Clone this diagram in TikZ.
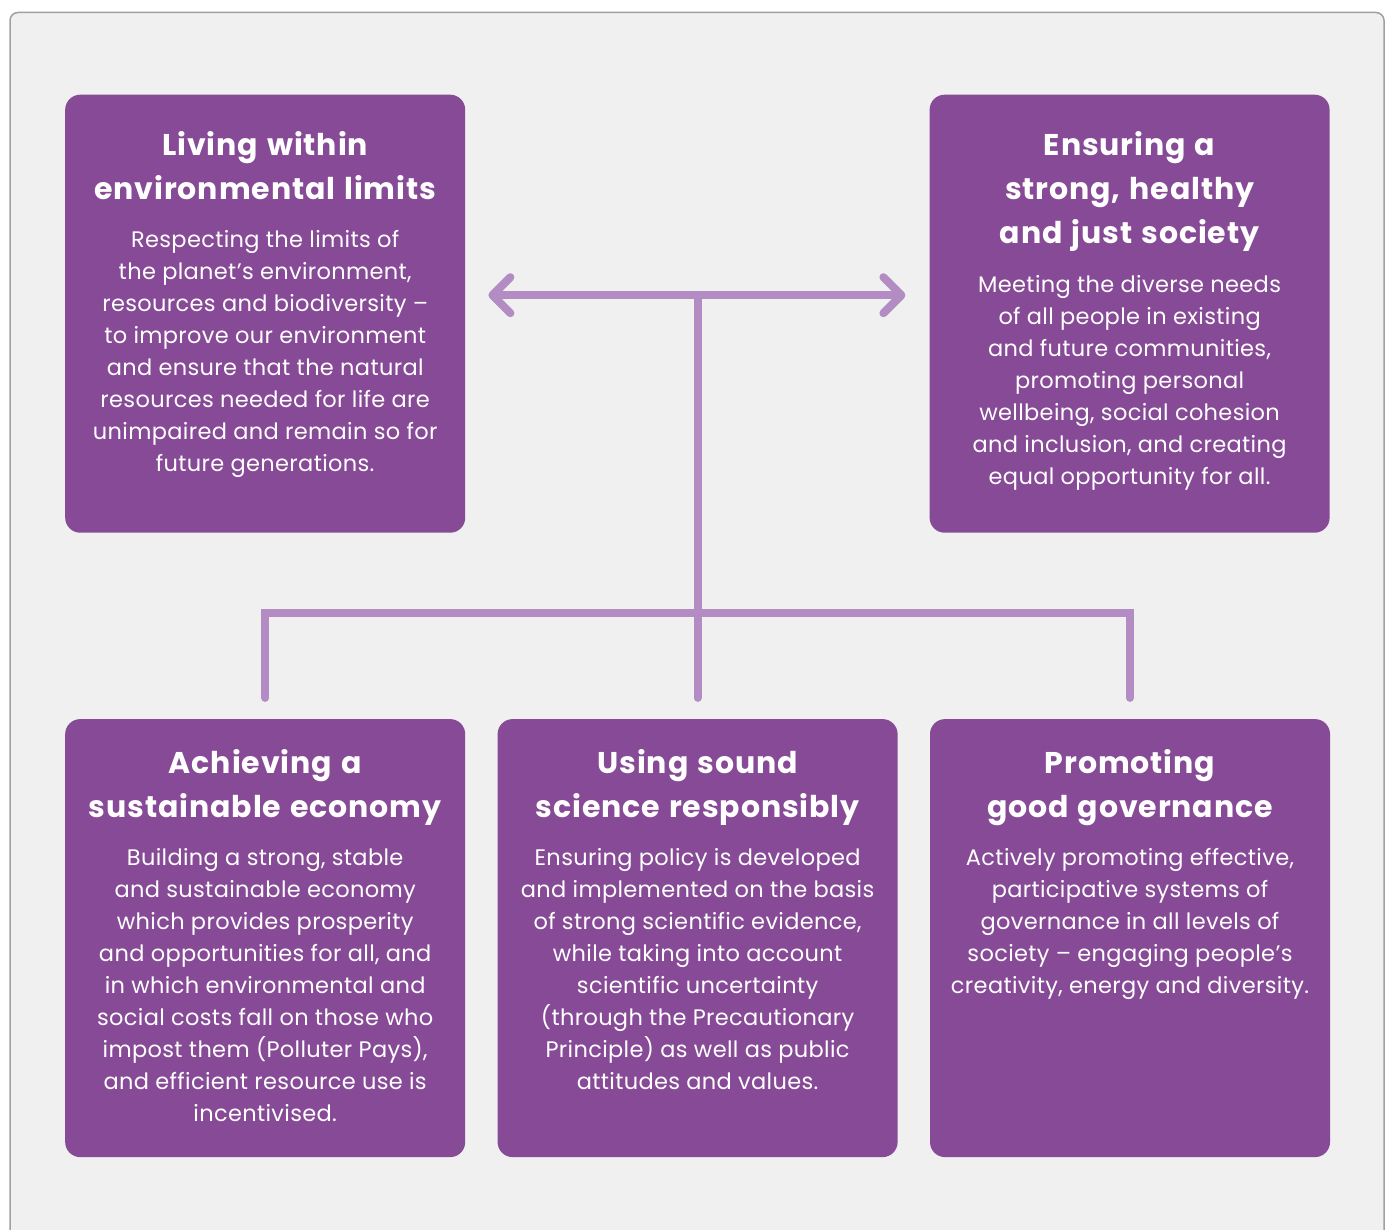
\documentclass[tikz,border=0pt]{standalone}
\usepackage{fontspec}
\setmainfont{Poppins}
\usetikzlibrary{arrows.meta, positioning}
\definecolor{pillarfill}{HTML}{874A96}
\definecolor{linkline}{HTML}{B28CC2}
\definecolor{panelfill}{HTML}{F0F0F0}
\definecolor{panelrule}{HTML}{A0A0A0}
\newcommand{\headfont}{\fontsize{30}{44}\selectfont\bfseries\addfontfeatures{LetterSpace=3}\spaceskip=.3em\relax\xspaceskip=.3em\relax}
\newcommand{\copyfont}{\fontsize{22.5}{32}\selectfont\addfontfeatures{LetterSpace=1.5}\spaceskip=.28em\relax\xspaceskip=.28em\relax}

\begin{document}
\begin{tikzpicture}[x=1pt, y=1pt,
    pillar/.style={fill=pillarfill, rounded corners=15pt, minimum width=400pt, minimum height=438pt, inner sep=0pt},
    blurb/.style={anchor=north, text=white, text width=398pt, align=center, inner sep=0pt},
    link/.style={draw=linkline, line width=8pt, line cap=round},
    barb/.style={arrows={Straight Barb[length=18pt, width=36pt, round]-Straight Barb[length=18pt, width=36pt, round]}}]
    % Frame
    \useasboundingbox (0,0) rectangle (1389,-1230);
    \clip (0,0) rectangle (1389,-1230);
    \draw[panelrule, fill=panelfill, line width=1.5pt, rounded corners=8pt] (10,-12.5) rectangle (1384,-1260);

    % Draw the pillars
    \node[pillar, anchor=north west] (env) at (65,-94.5) {};
    \node[pillar, right=464pt of env]  (soc)  {};
    \node[pillar, below=186pt of env]  (econ) {};
    \node[pillar, right=32pt of econ]  (sci)  {};
    \node[pillar, right=32pt of sci]   (gov)  {};

    % Texts of the pillars
    \node[blurb] (envT) at ([yshift=-30.5pt]env.north) {%
        {\headfont\rule{0pt}{30pt}Living within\\environmental limits\par}
        {\copyfont\vspace{16pt}Respecting the limits of\\the planet’s environment,\\resources and biodiversity –\\to improve our environment\\and ensure that the natural\\resources needed for life are\\unimpaired and remain so for\\future generations.\par}};
    \node[blurb] (socT) at ([yshift=-30.5pt]soc.north) {%
        {\headfont\rule{0pt}{30pt}Ensuring a\\strong, healthy\\and just society\par}
        {\copyfont\vspace{17pt}Meeting the diverse needs\\of all people in existing\\and future communities,\\promoting personal\\wellbeing, social cohesion\\and inclusion, and creating\\equal opportunity for all.\par}};
    \node[blurb] (econT) at ([yshift=-24pt]econ.north) {%
        {\headfont\rule{0pt}{30pt}Achieving a\\sustainable economy\par}
        {\copyfont\vspace{16pt}Building a strong, stable\\and sustainable economy\\which provides prosperity\\and opportunities for all, and\\in which environmental and\\social costs fall on those who\\impost them (Polluter Pays),\\and efficient resource use is\\incentivised.\par}};
    \node[blurb] (sciT) at ([yshift=-24pt]sci.north) {%
        {\headfont\rule{0pt}{30pt}Using sound\\science responsibly\par}
        {\copyfont\vspace{16pt}Ensuring policy is developed\\and implemented on the basis\\of strong scientific evidence,\\while taking into account\\scientific uncertainty\\(through the Precautionary\\Principle) as well as public\\attitudes and values.\par}};
    \node[blurb] (govT) at ([yshift=-24pt]gov.north) {%
        {\headfont\rule{0pt}{30pt}Promoting\\good governance\par}
        {\copyfont\vspace{16pt}Actively promoting effective,\\participative systems of\\governance in all levels of\\society – engaging people’s\\creativity, energy and diversity.\par}};

    % Connect the pillars
    \coordinate (tipL) at ([xshift=23pt, yshift=18.5pt]env.east);
    \coordinate (tipR) at ([xshift=-24pt, yshift=18.5pt]soc.west);
    \coordinate (fork) at ([yshift=106pt]sci.north);
    \draw[link, barb] (tipL) -- (tipR);
    \draw[link] (sci.north |- tipL) -- ([yshift=21pt]sci.north);
    \draw[link] ([yshift=21pt]econ.north) |- (fork) -| ([yshift=21pt]gov.north);
\end{tikzpicture}
\end{document}
